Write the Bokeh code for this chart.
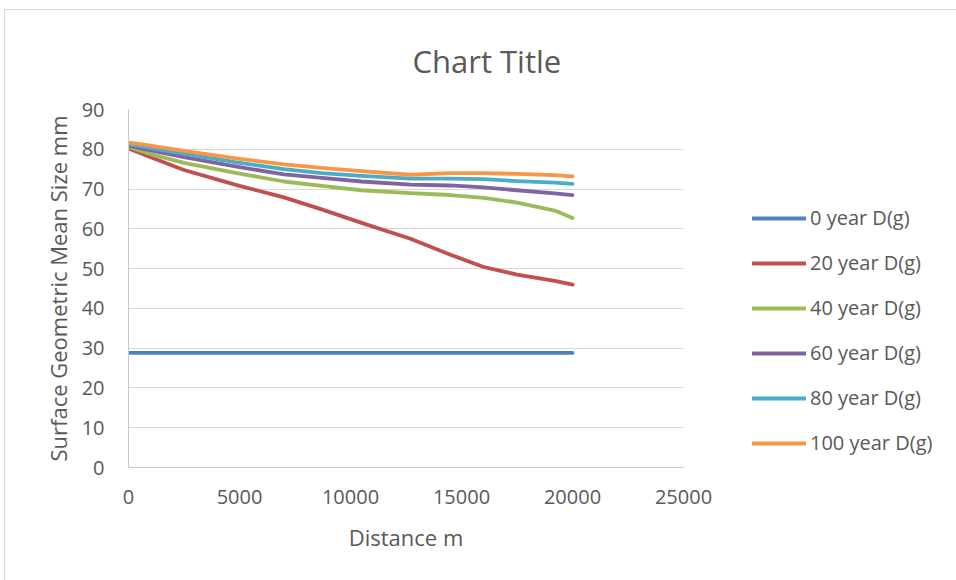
from bokeh.plotting import figure
from bokeh.models import Range1d, FixedTicker, Legend, LegendItem
from bokeh.embed import file_html
from bokeh.resources import INLINE

# ---- data ----
distance = [0, 1000, 2500, 5000, 7000, 8700, 10500, 12700, 14500, 16000, 17500, 19200, 20000]
year0 = [28.8] * 13
year20 = [80.2, 78.0, 74.8, 70.8, 67.9, 64.9, 61.5, 57.5, 53.5, 50.4, 48.5, 46.9, 46.0]
year40 = [80.6, 78.8, 76.6, 73.9, 71.9, 70.8, 69.7, 69.0, 68.5, 67.8, 66.6, 64.6, 62.7]
year60 = [80.9, 79.7, 78.0, 75.5, 73.7, 72.8, 71.9, 71.1, 70.9, 70.4, 69.7, 68.9, 68.5]
year80 = [81.3, 80.3, 78.9, 76.6, 75.0, 74.0, 73.3, 72.6, 72.6, 72.5, 72.0, 71.6, 71.3]
year100 = [81.7, 80.9, 79.6, 77.6, 76.2, 75.3, 74.5, 73.6, 74.0, 74.0, 73.8, 73.5, 73.2]

series_names = ["0 year D(g)", "20 year D(g)", "40 year D(g)", "60 year D(g)", "80 year D(g)", "100 year D(g)"]
series_values = [year0, year20, year40, year60, year80, year100]
colors = ["#4F81BD", "#C0504D", "#9BBB59", "#8064A2", "#4BACC6", "#F79646"]

x_ticks = [0, 5000, 10000, 15000, 20000, 25000]
x_tick_labels = ["0", "5000", "10000", "15000", "20000", "25000"]
y_ticks = [0, 10, 20, 30, 40, 50, 60, 70, 80, 90]
y_tick_labels = ["0", "10", "20", "30", "40", "50", "60", "70", "80", "90"]

FONT = "Open Sans"
TXT = "#595959"

p = figure(frame_width=555, frame_height=358, output_backend="svg", toolbar_location=None,
           x_range=Range1d(0, 25000), y_range=Range1d(0, 90),
           min_border_left=123, min_border_right=0, min_border_top=99, min_border_bottom=113,
           title="Chart Title")
p.styles = {"margin-left": "4px", "margin-top": "9px",
            "border-left": "1px solid #d9d9d9", "border-top": "1px solid #d9d9d9"}

p.outline_line_color = None
p.background_fill_color = "white"
p.border_fill_color = "white"

p.title.align = "left"
p.title.offset = 284
p.title.standoff = 55
p.title.text_font = FONT
p.title.text_font_size = "31px"
p.title.text_font_style = "normal"
p.title.text_color = TXT

p.xgrid.grid_line_color = None
p.ygrid.grid_line_color = "#d9d9d9"
p.ygrid.grid_line_width = 1

p.xaxis.ticker = FixedTicker(ticks=x_ticks)
p.yaxis.ticker = FixedTicker(ticks=y_ticks)
p.xaxis.major_label_overrides = dict(zip(x_ticks, x_tick_labels))
p.yaxis.major_label_overrides = dict(zip(y_ticks, y_tick_labels))

for ax in (p.xaxis[0], p.yaxis[0]):
    ax.axis_line_color = "#c8c8c8"
    ax.axis_line_width = 1
    ax.major_tick_line_color = None
    ax.minor_tick_line_color = None
    ax.major_label_text_font = FONT
    ax.major_label_text_font_size = "20px"
    ax.major_label_text_color = TXT
    ax.axis_label_text_font = FONT
    ax.axis_label_text_font_size = "22px"
    ax.axis_label_text_font_style = "normal"
    ax.axis_label_text_color = TXT

p.xaxis.axis_label = "Distance m"
p.yaxis.axis_label = "Surface Geometric Mean Size mm"
p.xaxis.major_label_standoff = 16
p.yaxis.major_label_standoff = 18
p.xaxis.axis_label_standoff = 15
p.yaxis.axis_label_standoff = 6

items = []
for name, vals, col in zip(series_names, series_values, colors):
    r = p.line(distance, vals, line_color=col, line_width=3.8, line_cap="round", line_join="round")
    items.append(LegendItem(label=name, renderers=[r]))

legend = Legend(items=items, location=(69, 11), orientation="vertical",
                glyph_width=54, glyph_height=20, label_height=20, label_standoff=4,
                spacing=18, padding=0, margin=0,
                label_text_font=FONT, label_text_font_size="20px", label_text_color=TXT,
                border_line_color=None, background_fill_alpha=0)
p.add_layout(legend, "right")

open("out.html", "w").write(file_html(p, INLINE))
